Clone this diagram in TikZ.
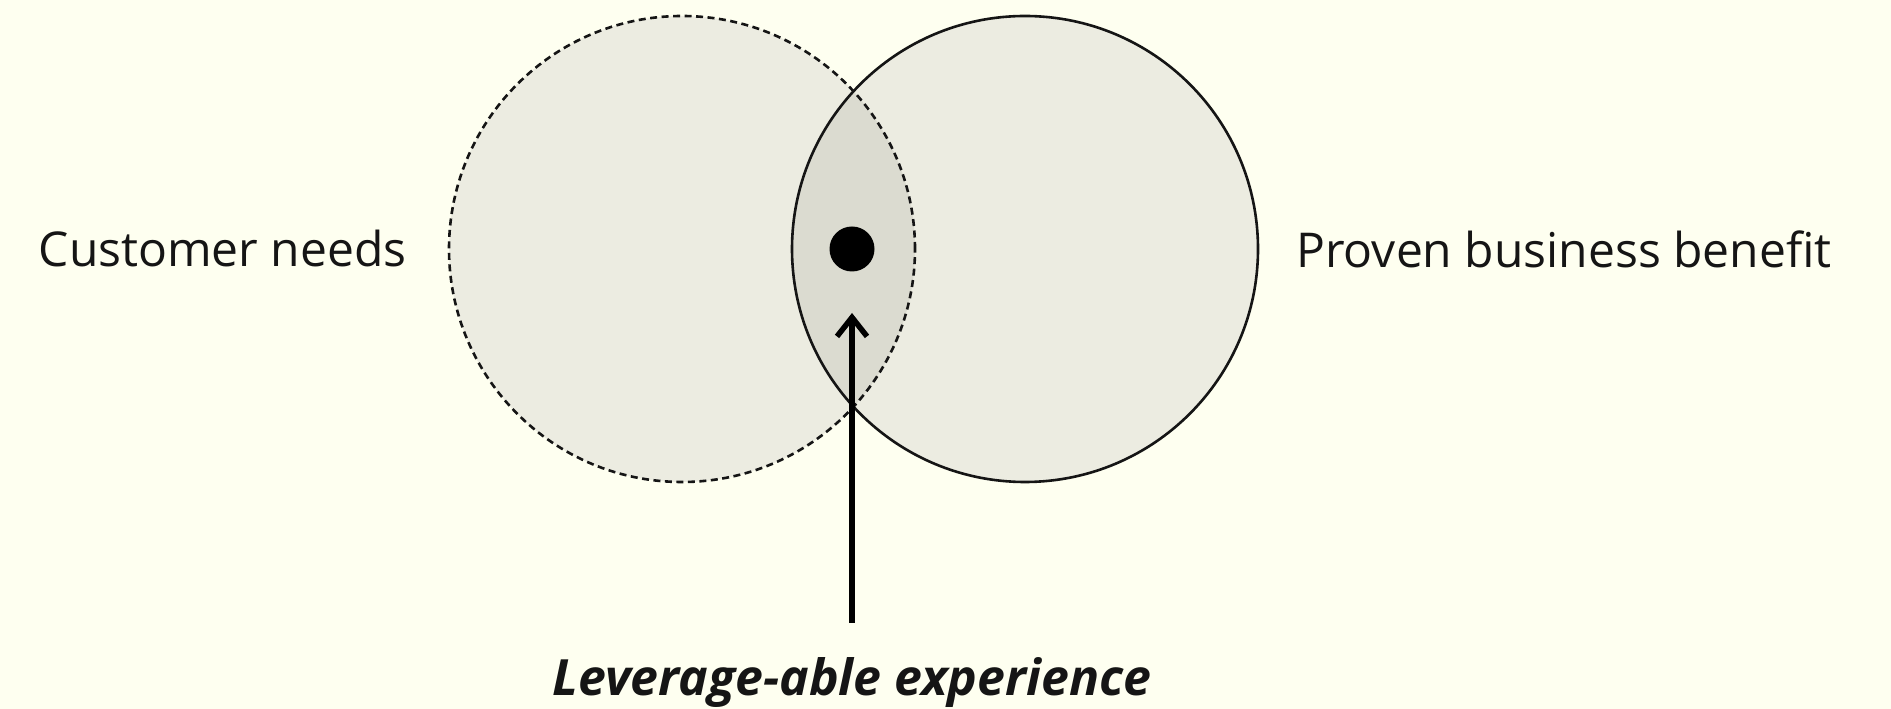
\documentclass[tikz,border=0pt]{standalone}
\usepackage{fontspec}
\setmainfont{Open Sans}
\usetikzlibrary{arrows.meta,positioning}
\definecolor{paper}{HTML}{FEFFF0}
\definecolor{ringfill}{HTML}{ECECE1}
\definecolor{overlapfill}{HTML}{DBDBD0}
\definecolor{ink}{HTML}{151515}
\begin{document}
\begin{tikzpicture}[
  x=1pt, y=1pt,
  node distance=42pt,
  ring/.style={circle, minimum size=466pt, inner sep=0pt, fill=ringfill},
  lbl/.style={font=\fontsize{48}{57}\selectfont, text=ink, inner sep=0pt},
  arr/.style={-{Straight Barb[length=19pt, width=30pt]}, line width=5.5pt, draw=black}
]
\fill[paper] (0,0) rectangle (1891,709);
\useasboundingbox (0,0) rectangle (1891,709);
% the two sets
\node[ring] (cn) at (682,460) {};
\node[ring] (pb) at (1025,460) {};
\begin{scope}
  \clip (cn.center) circle (233);
  \fill[overlapfill] (pb.center) circle (233);
\end{scope}
\draw[ink, line width=2.6pt] (pb.center) circle (233);
\draw[ink, line width=2.6pt, dash pattern=on 7pt off 4.5pt] (cn.center) circle (233);
% sweet spot
\node[circle, fill=black, minimum size=45pt, inner sep=0pt] (spot) at (852,460) {};
\node[lbl, left=of cn] (cnl) {Customer needs};
\node[lbl, right=38pt of pb] (pbl) {Proven business benefit};
\coordinate (foot) at (852,86);
\coordinate (tip) at (852,396);
\draw[arr] (foot) -- (tip);
\node[lbl, below=34pt of foot, font=\fontsize{50}{60}\selectfont\bfseries\itshape] (lev) {Leverage-able experience};
\end{tikzpicture}
\end{document}
